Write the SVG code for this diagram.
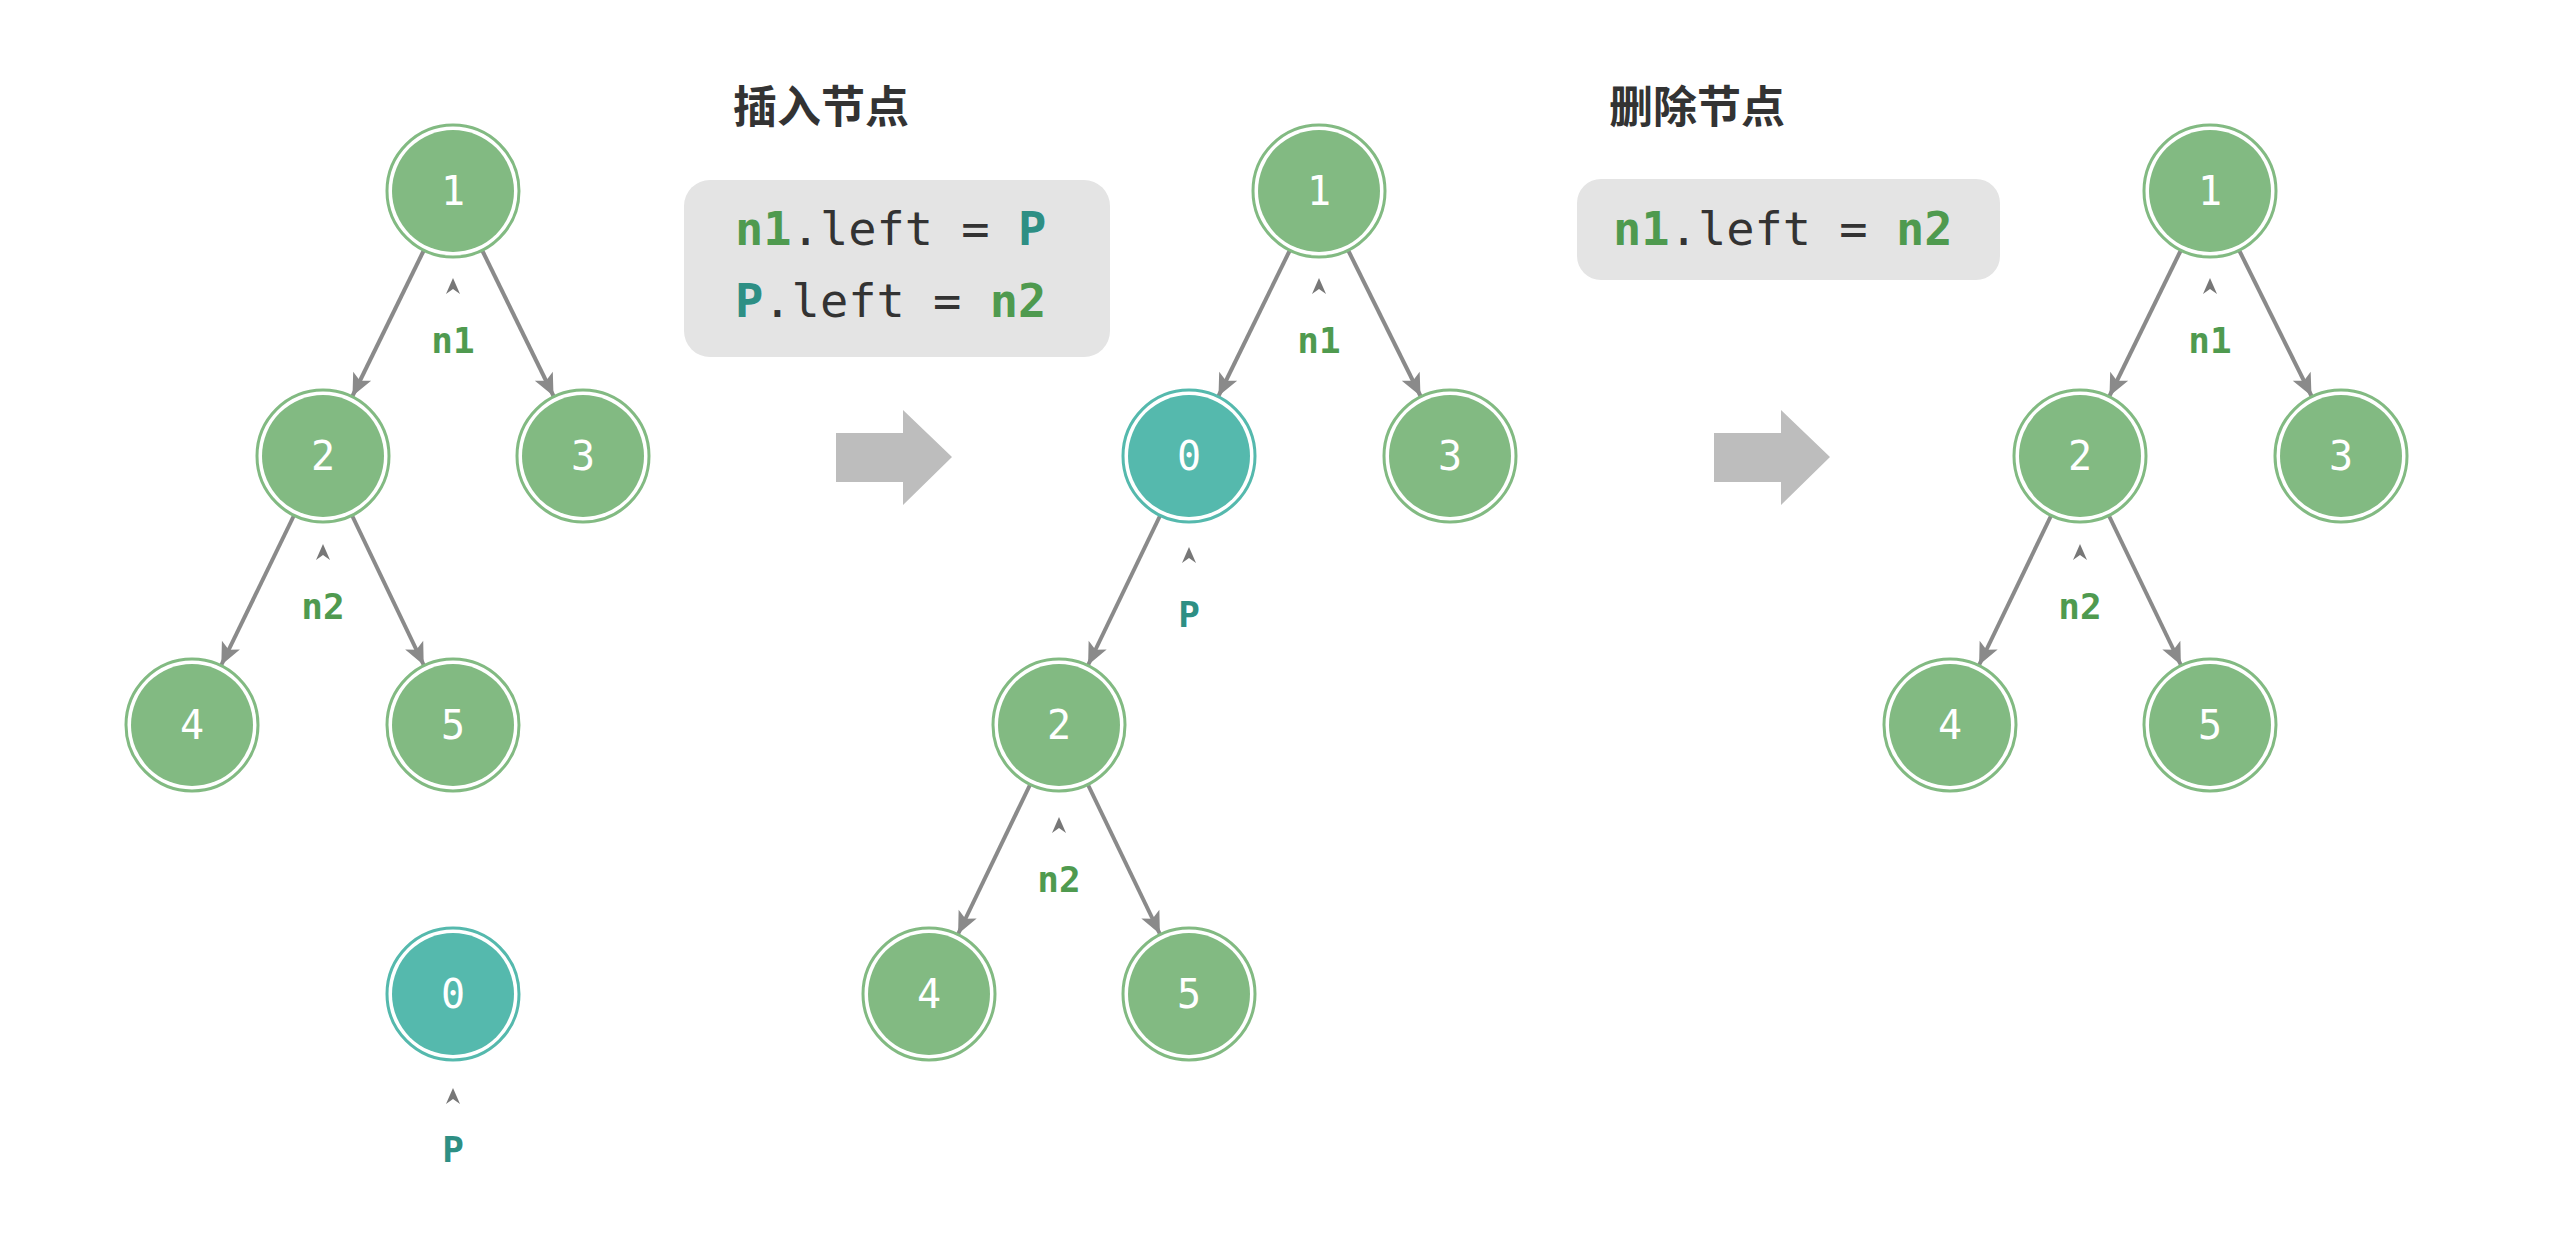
<svg xmlns="http://www.w3.org/2000/svg" width="2554" height="1248" viewBox="0 0 2554 1248">
<style>
.n circle.f{fill:#82ba82}
.n circle.o{fill:none;stroke:#82ba82;stroke-width:3}
.t circle.f{fill:#55b9ad}
.t circle.o{fill:none;stroke:#55b9ad;stroke-width:3}
.d{font-family:"DejaVu Sans Mono","Liberation Mono",monospace;font-size:40px;fill:#fff;text-anchor:middle}
.lb{font-family:"DejaVu Sans Mono","Liberation Mono",monospace;font-size:36px;font-weight:bold;text-anchor:middle}
.g{fill:#4f9a4f}.tc{fill:#2e8f84}
.code{font-family:"DejaVu Sans Mono","Liberation Mono",monospace;font-size:47px;fill:#333}
.ti{font-family:"Noto Sans CJK SC",sans-serif;font-size:44px;font-weight:bold;fill:#333}
.e line{stroke:#8a8a8a;stroke-width:4;marker-end:url(#ah)}
.c{fill:#777}
</style>
<defs>
<marker id="ah" markerUnits="userSpaceOnUse" markerWidth="30" markerHeight="30" viewBox="0 0 30 30" refX="26" refY="15" orient="auto">
<path d="M4,5 L26,15 L4,25 L9,15 Z" fill="#8a8a8a"/>
</marker>
<path id="car" d="M-7,8 L0,-8 L7,8 L0,3 Z"/>
</defs>
<text class="ti" x="733" y="123">插入节点</text>
<text class="ti" x="1609" y="123">删除节点</text>
<rect x="684" y="180" width="426" height="177" rx="26" fill="#e4e4e4"/>
<text class="code" x="735" y="245"><tspan fill="#4f9a4f" font-weight="bold">n1</tspan>.left = <tspan fill="#2e8f84" font-weight="bold">P</tspan></text>
<text class="code" x="735" y="317"><tspan fill="#2e8f84" font-weight="bold">P</tspan>.left = <tspan fill="#4f9a4f" font-weight="bold">n2</tspan></text>
<rect x="1577" y="179" width="423" height="101" rx="24" fill="#e4e4e4"/>
<text class="code" x="1613" y="245"><tspan fill="#4f9a4f" font-weight="bold">n1</tspan>.left = <tspan fill="#4f9a4f" font-weight="bold">n2</tspan></text>
<path d="M836,433 H903 V410 L952,457 L903,505 V482 H836 Z" fill="#bdbdbd"/>
<path d="M1714,433 H1781 V410 L1830,457 L1781,505 V482 H1714 Z" fill="#bdbdbd"/>
<g class="e" id="edges">
<line x1="423.5" y1="251" x2="352.5" y2="396"/>
<line x1="482.5" y1="251" x2="553.5" y2="396"/>
<line x1="293.7" y1="516" x2="221.3" y2="665"/>
<line x1="352.3" y1="516" x2="423.7" y2="665"/>
<line x1="1289.5" y1="251" x2="1218.5" y2="396"/>
<line x1="1348.5" y1="251" x2="1420.5" y2="396"/>
<line x1="1159.9" y1="516" x2="1088.1" y2="665"/>
<line x1="1029.9" y1="785" x2="958.1" y2="934"/>
<line x1="1088.1" y1="785" x2="1159.9" y2="934"/>
<line x1="2180.5" y1="251" x2="2109.5" y2="396"/>
<line x1="2239.5" y1="251" x2="2311.5" y2="396"/>
<line x1="2050.9" y1="516" x2="1979.1" y2="665"/>
<line x1="2109.1" y1="516" x2="2180.9" y2="665"/>
</g>
<g id="a1" class="n"><circle class="f" cx="453" cy="191" r="61"/><circle class="o" cx="453" cy="191" r="66"/><text class="d" x="453" y="205">1</text></g>
<g id="a2" class="n"><circle class="f" cx="323" cy="456" r="61"/><circle class="o" cx="323" cy="456" r="66"/><text class="d" x="323" y="470">2</text></g>
<g id="a3" class="n"><circle class="f" cx="583" cy="456" r="61"/><circle class="o" cx="583" cy="456" r="66"/><text class="d" x="583" y="470">3</text></g>
<g id="a4" class="n"><circle class="f" cx="192" cy="725" r="61"/><circle class="o" cx="192" cy="725" r="66"/><text class="d" x="192" y="739">4</text></g>
<g id="a5" class="n"><circle class="f" cx="453" cy="725" r="61"/><circle class="o" cx="453" cy="725" r="66"/><text class="d" x="453" y="739">5</text></g>
<g id="a0" class="t"><circle class="f" cx="453" cy="994" r="61"/><circle class="o" cx="453" cy="994" r="66"/><text class="d" x="453" y="1008">0</text></g>
<g id="b1" class="n"><circle class="f" cx="1319" cy="191" r="61"/><circle class="o" cx="1319" cy="191" r="66"/><text class="d" x="1319" y="205">1</text></g>
<g id="b0" class="t"><circle class="f" cx="1189" cy="456" r="61"/><circle class="o" cx="1189" cy="456" r="66"/><text class="d" x="1189" y="470">0</text></g>
<g id="b3" class="n"><circle class="f" cx="1450" cy="456" r="61"/><circle class="o" cx="1450" cy="456" r="66"/><text class="d" x="1450" y="470">3</text></g>
<g id="b2" class="n"><circle class="f" cx="1059" cy="725" r="61"/><circle class="o" cx="1059" cy="725" r="66"/><text class="d" x="1059" y="739">2</text></g>
<g id="b4" class="n"><circle class="f" cx="929" cy="994" r="61"/><circle class="o" cx="929" cy="994" r="66"/><text class="d" x="929" y="1008">4</text></g>
<g id="b5" class="n"><circle class="f" cx="1189" cy="994" r="61"/><circle class="o" cx="1189" cy="994" r="66"/><text class="d" x="1189" y="1008">5</text></g>
<g id="c1" class="n"><circle class="f" cx="2210" cy="191" r="61"/><circle class="o" cx="2210" cy="191" r="66"/><text class="d" x="2210" y="205">1</text></g>
<g id="c2" class="n"><circle class="f" cx="2080" cy="456" r="61"/><circle class="o" cx="2080" cy="456" r="66"/><text class="d" x="2080" y="470">2</text></g>
<g id="c3" class="n"><circle class="f" cx="2341" cy="456" r="61"/><circle class="o" cx="2341" cy="456" r="66"/><text class="d" x="2341" y="470">3</text></g>
<g id="c4" class="n"><circle class="f" cx="1950" cy="725" r="61"/><circle class="o" cx="1950" cy="725" r="66"/><text class="d" x="1950" y="739">4</text></g>
<g id="c5" class="n"><circle class="f" cx="2210" cy="725" r="61"/><circle class="o" cx="2210" cy="725" r="66"/><text class="d" x="2210" y="739">5</text></g>
<g id="labels">
<use href="#car" class="c" x="453" y="286"/><text class="lb g" x="453" y="353">n1</text>
<use href="#car" class="c" x="323" y="552"/><text class="lb g" x="323" y="619">n2</text>
<use href="#car" class="c" x="453" y="1096"/><text class="lb tc" x="453" y="1162">P</text>
<use href="#car" class="c" x="1319" y="286"/><text class="lb g" x="1319" y="353">n1</text>
<use href="#car" class="c" x="1189" y="555"/><text class="lb tc" x="1189" y="627">P</text>
<use href="#car" class="c" x="1059" y="825"/><text class="lb g" x="1059" y="892">n2</text>
<use href="#car" class="c" x="2210" y="286"/><text class="lb g" x="2210" y="353">n1</text>
<use href="#car" class="c" x="2080" y="552"/><text class="lb g" x="2080" y="619">n2</text>
</g>
</svg>
